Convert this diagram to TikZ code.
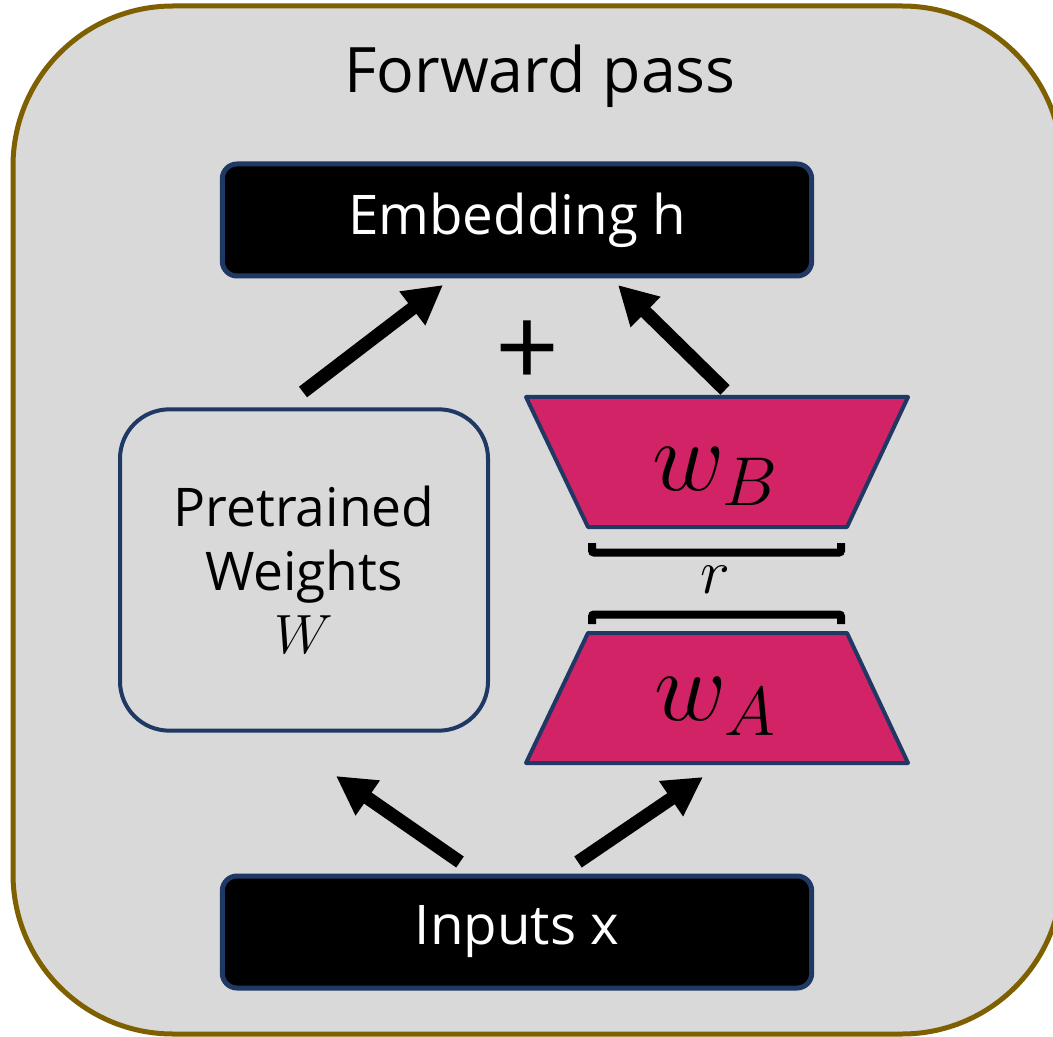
\documentclass[tikz,border=0pt]{standalone}
\usepackage{graphicx}
\usepackage{fontspec}
\setmainfont{Open Sans}
\usetikzlibrary{arrows.meta}
\definecolor{panel}{HTML}{D9D9D9}
\definecolor{framebrown}{HTML}{7F6000}
\definecolor{navy}{HTML}{1F3864}
\definecolor{crimson}{HTML}{D12365}
% math symbols drawn at a base size and magnified
\newcommand{\bigmath}[2]{{\fontsize{20}{24}\selectfont\scalebox{#1}{$#2$}}}
\begin{document}
\begin{tikzpicture}[x=0.75pt,y=-0.75pt,
  blackbox/.style={draw=navy, line width=3.75pt, fill=black, text=white,
    rounded corners=11pt, minimum width=442pt, minimum height=84pt,
    font=\fontsize{41}{49}\selectfont},
  weightbox/.style={draw=navy, line width=3pt, fill=panel,
    rounded corners=37pt, minimum width=276pt, minimum height=241pt,
    align=center, font=\fontsize{40}{47.5}\selectfont},
  lowrank/.style={draw=navy, line width=3pt, fill=crimson, line join=round},
  bigarrow/.style={line width=10pt, -{Triangle[length=29pt,width=30pt]}},
  bracketline/.style={line width=6pt, rounded corners=1.5pt},
  mathlabel/.style={inner sep=0pt}]
\useasboundingbox (0,0) rectangle (1053,1037);
\clip (0,0) rectangle (1053,1037);

% outer panel
\draw[framebrown, line width=3.75pt, fill=panel, rounded corners=120pt]
  (13,6) rectangle (1062,1034);
\node[font=\fontsize{47}{56}\selectfont] (title) at (540,76) {Forward pass};

% main boxes
\node[blackbox] (emb) at (517,220) {Embedding h};
\node[blackbox] (inp) at (517,932) {Inputs x};
\node[weightbox] (pw) at (304,570) {Pretrained\\Weights\\\bigmath{2}{W}};

% low-rank factors
\coordinate (bTL) at (526,397);
\coordinate (bTR) at (908,397);
\coordinate (bBR) at (847,527);
\coordinate (bBL) at (588,527);
\draw[lowrank] (bTL) -- (bTR) -- (bBR) -- (bBL) -- cycle;
\node[mathlabel] (wb) at (716,477) {\bigmath{3.6}{w_B}};

\coordinate (aTL) at (588,633);
\coordinate (aTR) at (847,633);
\coordinate (aBR) at (908,763);
\coordinate (aBL) at (526,763);
\draw[lowrank] (aTL) -- (aTR) -- (aBR) -- (aBL) -- cycle;
\node[mathlabel] (wa) at (716,707) {\bigmath{3.6}{w_A}};

% rank brackets
\draw[bracketline] (592,543) -- (592,552.5) -- (841,552.5) -- (841,543);
\node[mathlabel] (rank) at (715,580) {\bigmath{2.3}{r}};
\draw[bracketline] (592,624) -- (592,614.5) -- (841,614.5) -- (841,624);

% sum sign
\node[font=\fontsize{84}{90}\selectfont, inner sep=0pt] (plus) at (528,354) {+};

% arrows
\coordinate (p1s) at (303,392);
\coordinate (p1e) at (443,285);
\coordinate (p2s) at (725,390);
\coordinate (p2e) at (618,285);
\coordinate (p3s) at (460,862);
\coordinate (p3e) at (336,776);
\coordinate (p4s) at (578,862);
\coordinate (p4e) at (703,777);
\draw[bigarrow] (p1s) -- (p1e);
\draw[bigarrow] (p2s) -- (p2e);
\draw[bigarrow] (p3s) -- (p3e);
\draw[bigarrow] (p4s) -- (p4e);
\end{tikzpicture}
\end{document}
